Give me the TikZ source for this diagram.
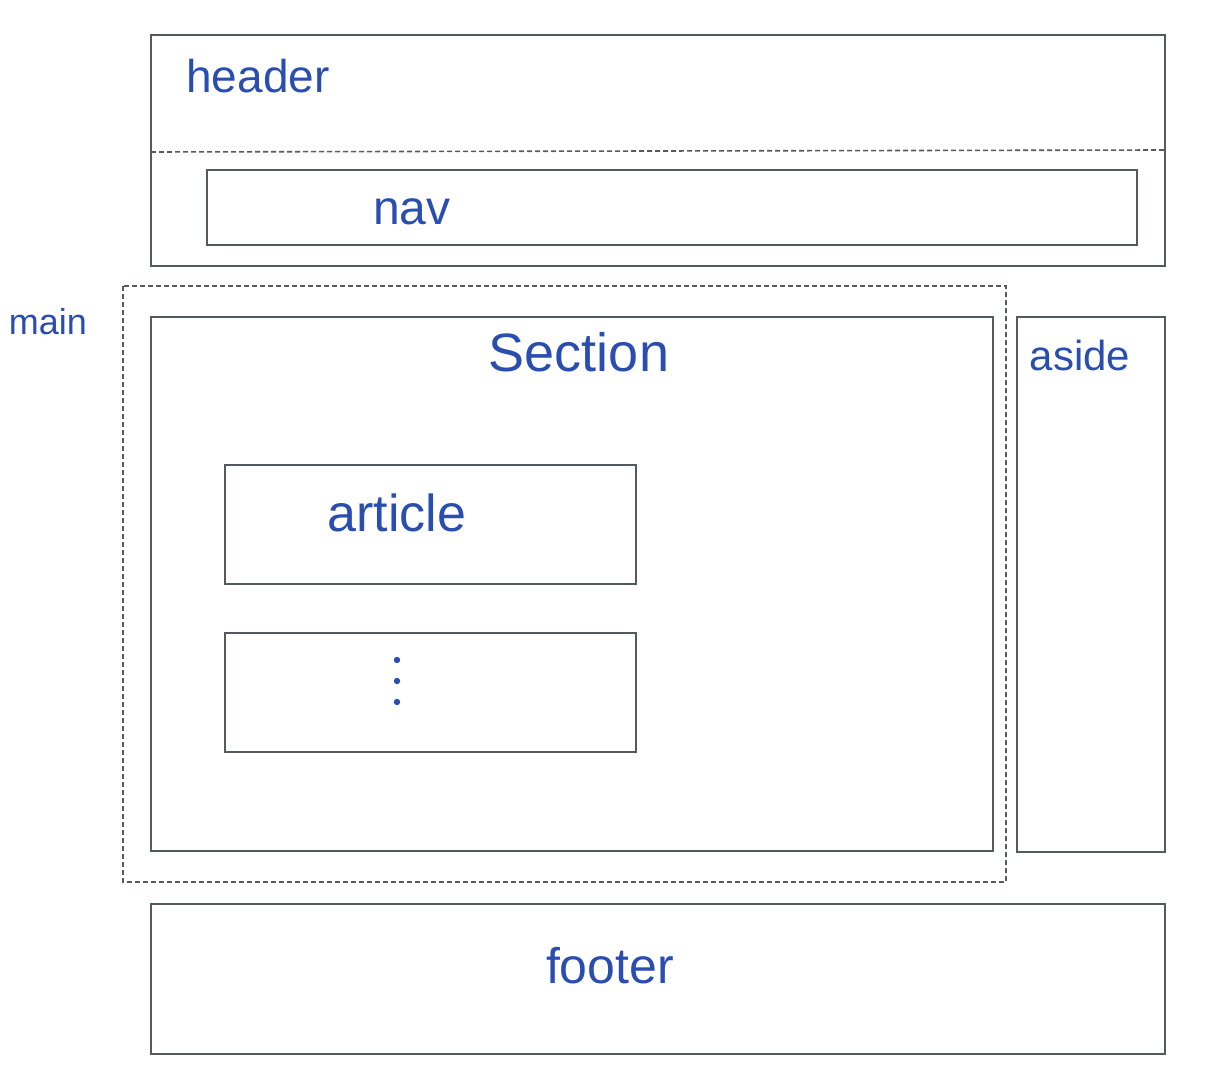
\documentclass[tikz,border=0pt]{standalone}
\usepackage{fontspec}
\setmainfont{Liberation Sans}
\definecolor{ink}{HTML}{2A4DB0}
\definecolor{frame}{HTML}{555A5E}
\begin{document}
\begin{tikzpicture}[x=0.5pt, y=-0.5pt,
    box/.style={draw=frame, line width=1.1pt},
    dashbox/.style={draw=frame, line width=0.8pt, dash pattern=on 2.5pt off 1.5pt},
    label/.style={text=ink, font=\fontsize{#1}{#1}\selectfont, inner sep=0pt}]
    \useasboundingbox (0,0) rectangle (1212,1091);
    % header with nav
    \draw[box] (151,35) rectangle (1165,266);
    \coordinate (hl) at (151,152);
    \coordinate (hr) at (1165,150);
    \draw[dashbox] (hl) -- (hr);
    \draw[box] (207,170) rectangle (1137,245);
    \node[label=23] (header) at (258,76) {header};
    \node[label=24] (nav) at (412,212) {nav};
    % main, section, aside
    \draw[dashbox] (123,286) rectangle (1006,882);
    \node[label=18] (main) at (48,322) {main};
    \draw[box] (151,317) rectangle (993,851);
    \node[label=27] (section) at (579,352) {Section};
    \draw[box] (1017,317) rectangle (1165,852);
    \node[label=21] (aside) at (1080,355) {aside};
    \foreach \y in {465,633} {
      \draw[box] (225,\y) rectangle (636,\y+119);
    }
    \node[label=26] (article) at (397,513) {article};
    \foreach \d in {660,681,702} {
      \fill[ink] (397,\d) circle (1.6pt);
    }
    % footer
    \draw[box] (151,904) rectangle (1165,1054);
    \node[label=25] (footer) at (610,966) {footer};
\end{tikzpicture}
\end{document}
